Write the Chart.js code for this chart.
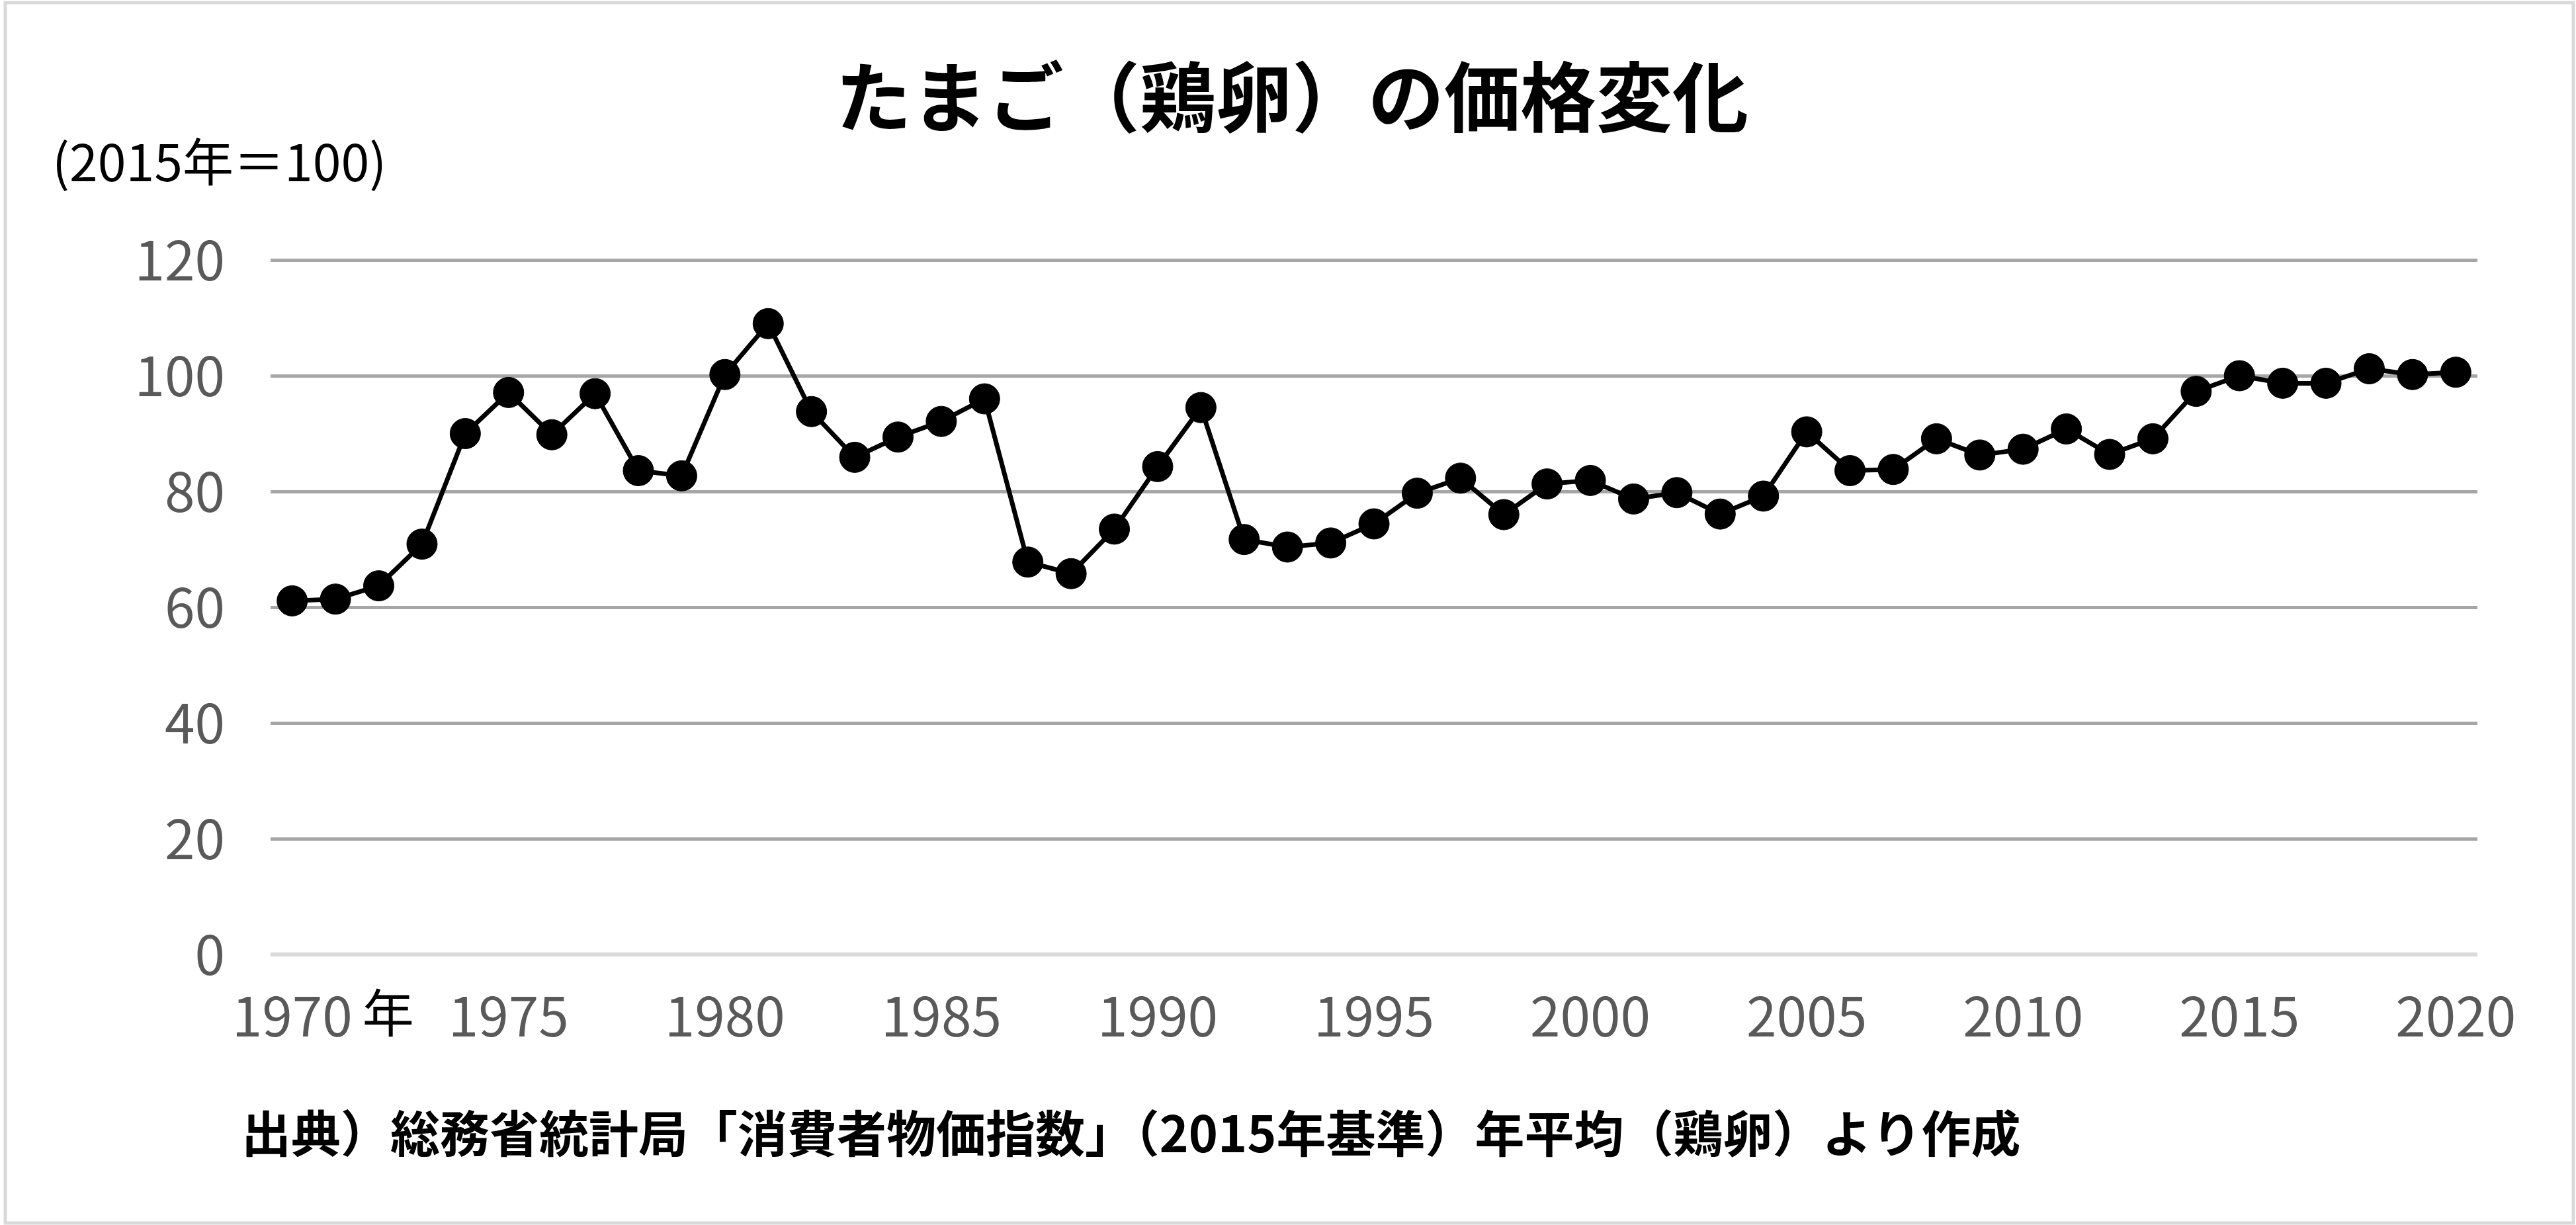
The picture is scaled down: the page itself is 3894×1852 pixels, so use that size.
<!DOCTYPE html>
<html lang="ja">
<head>
<meta charset="utf-8">
<title>たまご（鶏卵）の価格変化</title>
<script src="https://cdn.jsdelivr.net/npm/chart.js@4.4.1/dist/chart.umd.min.js"></script>
<style>
  html, body { margin: 0; padding: 0; background: #fff; }
  #wrap { position: relative; width: 3894px; height: 1852px; }
</style>
</head>
<body>
<div id="wrap"><canvas id="eggChart"></canvas></div>
<script>
// 年（カテゴリ）
const years = [
  '1970','1971','1972','1973','1974','1975','1976','1977','1978','1979',
  '1980','1981','1982','1983','1984','1985','1986','1987','1988','1989',
  '1990','1991','1992','1993','1994','1995','1996','1997','1998','1999',
  '2000','2001','2002','2003','2004','2005','2006','2007','2008','2009',
  '2010','2011','2012','2013','2014','2015','2016','2017','2018','2019',
  '2020'
];

// 鶏卵の消費者物価指数（2015年＝100）
const eggIndex = [
  61.1, 61.4, 63.7, 70.9, 90.0, 97.1, 89.8, 96.9, 83.6, 82.7,
  100.2, 109.0, 93.8, 85.9, 89.4, 92.1, 96.0, 67.8, 65.8, 73.5,
  84.3, 94.5, 71.7, 70.4, 71.1, 74.4, 79.7, 82.3, 76.0, 81.3,
  81.9, 78.7, 79.8, 76.1, 79.2, 90.3, 83.6, 83.8, 89.1, 86.3,
  87.3, 90.8, 86.4, 89.1, 97.3, 100.0, 98.7, 98.7, 101.2, 100.2,
  100.6
];

// 目盛
const xTickLabels = ['1970','1975','1980','1985','1990','1995','2000','2005','2010','2015','2020'];
const yTicks = [0, 20, 40, 60, 80, 100, 120];

const titleText = 'たまご（鶏卵）の価格変化';
const unitText = '(2015年＝100)';
const yearUnit = '年';
const sourceText = '出典）総務省統計局「消費者物価指数」（2015年基準）年平均（鶏卵）より作成';

const jp = '"Noto Sans CJK JP", sans-serif';

const textPlugin = {
  id: 'texts',
  beforeDraw(chart) {
    const ctx = chart.ctx;
    ctx.save();
    ctx.fillStyle = '#fff';
    ctx.fillRect(0, 0, chart.width, chart.height);
    ctx.strokeStyle = '#d9d9d9';
    ctx.lineWidth = 5;
    ctx.strokeRect(8, 4, chart.width - 12, chart.height - 7);
    ctx.restore();
  },
  afterDraw(chart) {
    const ctx = chart.ctx;
    const xs = chart.scales.x;
    ctx.save();
    ctx.fillStyle = '#000';
    ctx.textBaseline = 'middle';

    // タイトル
    ctx.font = 'bold 115px ' + jp;
    ctx.textAlign = 'center';
    ctx.fillText(titleText, chart.width / 2 + 6, 146);

    // 単位
    ctx.font = '77px ' + jp;
    ctx.textAlign = 'left';
    ctx.fillText(unitText, 79, 245);

    // 「年」
    ctx.font = '78px ' + jp;
    ctx.textAlign = 'center';
    ctx.fillText(yearUnit, xs.getPixelForValue(0) + 145, xs.top + 88);

    // 出典
    ctx.font = 'bold 75px ' + jp;
    ctx.textAlign = 'left';
    ctx.fillText(sourceText, 365, 1713);
    ctx.restore();
  }
};

const eggChart = new Chart(document.getElementById('eggChart'), {
  type: 'line',
  data: {
    labels: years,
    datasets: [{
      label: '鶏卵',
      data: eggIndex,
      borderColor: '#000',
      backgroundColor: '#000',
      borderWidth: 7,
      tension: 0,
      pointRadius: 23,
      pointBorderWidth: 1,
      pointBackgroundColor: '#000',
      pointBorderColor: '#000'
    }]
  },
  options: {
    responsive: true,
    maintainAspectRatio: false,
    devicePixelRatio: 1,
    animation: false,
    layout: {
      padding: { top: 393, right: 149, bottom: 0, left: 0 }
    },
    plugins: {
      legend: { display: false },
      title: { display: false },
      tooltip: { enabled: false }
    },
    scales: {
      x: {
        offset: true,
        grid: { display: false, drawTicks: false },
        border: { display: false },
        afterFit(scale) { scale.height = 409; },
        ticks: {
          autoSkip: false,
          maxRotation: 0,
          padding: 44,
          color: '#595959',
          font: { family: jp, size: 82 },
          callback(value) {
            const lab = this.getLabelForValue(value);
            return xTickLabels.includes(lab) ? lab : null;
          }
        }
      },
      y: {
        min: yTicks[0],
        max: yTicks[yTicks.length - 1],
        afterFit(scale) { scale.width = 409; },
        afterBuildTicks(scale) { scale.ticks = yTicks.map(v => ({ value: v })); },
        border: { display: false },
        grid: {
          drawTicks: false,
          lineWidth: ctx => ctx.tick && ctx.tick.value === 0 ? 6 : 5,
          color: ctx => ctx.tick && ctx.tick.value === 0 ? '#d9d9d9' : '#a6a6a6'
        },
        ticks: {
          padding: 69,
          color: '#595959',
          font: { family: jp, size: 82 }
        }
      }
    }
  },
  plugins: [textPlugin]
});
</script>
</body>
</html>
